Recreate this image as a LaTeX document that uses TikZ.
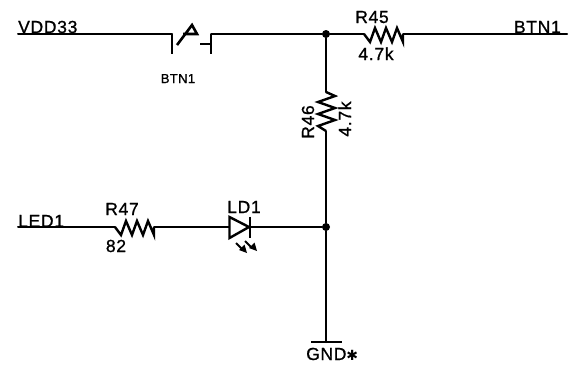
\documentclass[tikz,border=0pt]{standalone}
\usepackage{fontspec}
\setmainfont{Liberation Sans}
\newfontfamily\lab[LetterSpace=4,FakeBold=0.9]{Liberation Sans}
\newfontfamily\labsm[LetterSpace=3,FakeBold=0.9]{Liberation Sans}
\newfontfamily\starfont{DejaVu Sans}
\begin{document}
\begin{tikzpicture}[x=1pt,y=-1pt,
  wire/.style={line width=2pt,line cap=round,line join=miter,black},
  sym/.style={line width=2.4pt,line join=miter,black},
  dotj/.style={circle,fill=black,inner sep=0pt,minimum size=8pt},
  txt/.style={inner sep=0pt,font=\lab\fontsize{17.5}{17.5}\selectfont,text=black},
  txts/.style={inner sep=0pt,font=\labsm\fontsize{13}{13}\selectfont,text=black}]
\useasboundingbox (0,0) rectangle (569,365);
\fill[white] (0,0) rectangle (569,365);
% connection points
\coordinate (vdd) at (18,34);
\coordinate (swl) at (172,34);
\coordinate (swr) at (211,34);
\node[dotj] (j1) at (326,34) {};
\node[dotj] (j2) at (326,227) {};
\coordinate (r45a) at (364,34);
\coordinate (r45b) at (403,34);
\coordinate (btn) at (567,34);
\coordinate (r46a) at (326,92);
\coordinate (r46b) at (326,131);
\coordinate (gnd) at (326,342);
\coordinate (led) at (18,227);
\coordinate (r47a) at (115,227);
\coordinate (r47b) at (154,227);
\coordinate (da) at (229,227);
\coordinate (dk) at (249,227);
% wires
\draw[wire] (vdd) -- (swl);
\draw[wire] (swr) -- (j1) -- (r45a);
\draw[wire] (r45b) -- (btn);
\draw[wire] (j1) -- (r46a);
\draw[wire] (r46b) -- (j2) -- (gnd);
\draw[wire] (led) -- (r47a);
\draw[wire] (r47b) -- (da);
\draw[wire] (dk) -- (j2);
% switch
\draw[sym,line width=2.8pt] (172,34) -- (172,54);
\draw[sym,line width=2.6pt] (177,45) -- (192,25) -- (197,34) -- (183,34);
\draw[sym] (211,34) -- (211,54);
\draw[sym] (200,44) -- (211,44);
% resistors
\draw[sym] (r45a) -- (370,42) -- (375,28) -- (381,42) -- (386,28) -- (392,42) -- (397,28) -- (403,42) -- (r45b);
\draw[sym] (r47a) -- (121,235) -- (126,221) -- (132,235) -- (137,221) -- (143,235) -- (148,221) -- (154,235) -- (r47b);
\draw[sym] (r46a) -- (335,96) -- (318,102) -- (335,108) -- (318,114) -- (335,120) -- (318,126) -- (r46b);
% LED
\draw[sym] (229.5,217) -- (229.5,238) -- (249,227) -- cycle;
\draw[sym] (250,216.5) -- (250,238);
\draw[line width=2pt] (236,243) -- (243,250);
\draw[line width=2pt] (245,241) -- (252,248);
\fill (247,253) -- (244.5,244.5) -- (239,250) -- cycle;
\fill (257,251) -- (254.5,242.5) -- (249,248) -- cycle;
% ground
\draw[sym] (311,342) -- (342,342);
% labels
\node[txt,anchor=base west] (tvdd) at (18,33) {VDD33};
\node[txts,anchor=base] (tsw) at (178,83) {BTN1};
\node[txt,anchor=base] (t45) at (372,23) {R45};
\node[txt,anchor=base] (t45v) at (376,60) {4.7k};
\node[txt,anchor=base east] (tbtn) at (561,33) {BTN1};
\node[txt,anchor=base,rotate=90] (t46) at (314,122) {R46};
\node[txt,anchor=base,rotate=90] (t46v) at (351,119) {4.7k};
\node[txt,anchor=base west] (tled) at (18,227) {LED1};
\node[txt,anchor=base] (t47) at (122,215) {R47};
\node[txt,anchor=base] (t47v) at (116,252) {82};
\node[txt,anchor=base] (tld) at (244,213) {LD1};
\node[txt,anchor=base west] (tgnd) at (306,360) {GND{\starfont\fontsize{14}{14}\selectfont ✱}};
\end{tikzpicture}
\end{document}
